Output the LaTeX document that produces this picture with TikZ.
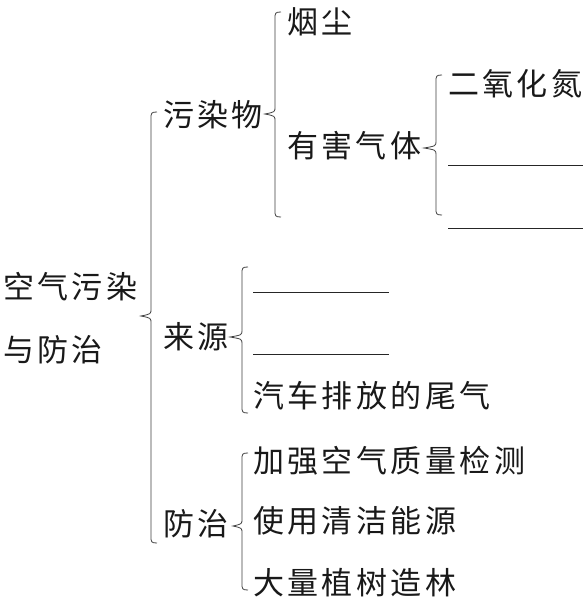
\documentclass[tikz,border=0pt]{standalone}
\usepackage{fontspec}
\newfontfamily\cjk[LetterSpace=11]{Noto Sans CJK SC}
\tikzset{
  lbl/.style={anchor=west, inner sep=0pt, font=\cjk\fontsize{31}{31}\selectfont, text=black!90},
  brc/.style={draw=black!75, line width=0.8pt},
  blank/.style={draw=black!85, line width=1pt}
}
\newcommand{\mybrace}[5]{% x, top, bottom, tipy, tipx
  \draw[brc] ({#1+6},#2) .. controls (#1,#2) and (#1,{#2+1}) .. (#1,{#2+7})
    -- (#1,{#4-7}) .. controls (#1,{#4-2}) .. (#5,#4)
    .. controls (#1,{#4+2}) .. (#1,{#4+7})
    -- (#1,{#3-7}) .. controls (#1,{#3-1}) and (#1,#3) .. ({#1+6},#3);}
\begin{document}
\begin{tikzpicture}[x=1pt,y=-1pt]
\useasboundingbox[fill=white] (0,0) rectangle (586,602);
% root
\node[lbl] (r1) at (3,287) {空气污染};
\node[lbl] (r2) at (3,350) {与防治};
% level 1
\node[lbl] (pol) at (163,115) {污染物};
\node[lbl] (src) at (163,337) {来源};
\node[lbl] (ctl) at (163,524) {防治};
% pollutants
\node[lbl] (dust) at (287,22) {烟尘};
\node[lbl] (gas) at (287,146) {有害气体};
\node[lbl] (no2) at (448,84) {二氧化氮};
\coordinate (g1a) at (448,165); \coordinate (g1b) at (583,165);
\coordinate (g2a) at (448,228); \coordinate (g2b) at (583,228);
\draw[blank] (g1a) -- (g1b);
\draw[blank] (g2a) -- (g2b);
% sources
\coordinate (s1a) at (253,292); \coordinate (s1b) at (389,292);
\coordinate (s2a) at (253,354); \coordinate (s2b) at (389,354);
\draw[blank] (s1a) -- (s1b);
\draw[blank] (s2a) -- (s2b);
\node[lbl] (car) at (253,396) {汽车排放的尾气};
% control
\node[lbl] (c1) at (253,461) {加强空气质量检测};
\node[lbl] (c2) at (253,521) {使用清洁能源};
\node[lbl] (c3) at (253,583) {大量植树造林};
% braces
\mybrace{151}{112}{543}{316}{141}
\mybrace{275}{12}{217}{114}{265}
\mybrace{436}{75}{215}{148}{424}
\mybrace{242}{267}{413}{337}{230}
\mybrace{242}{453}{590}{526}{233}
\end{tikzpicture}
\end{document}
